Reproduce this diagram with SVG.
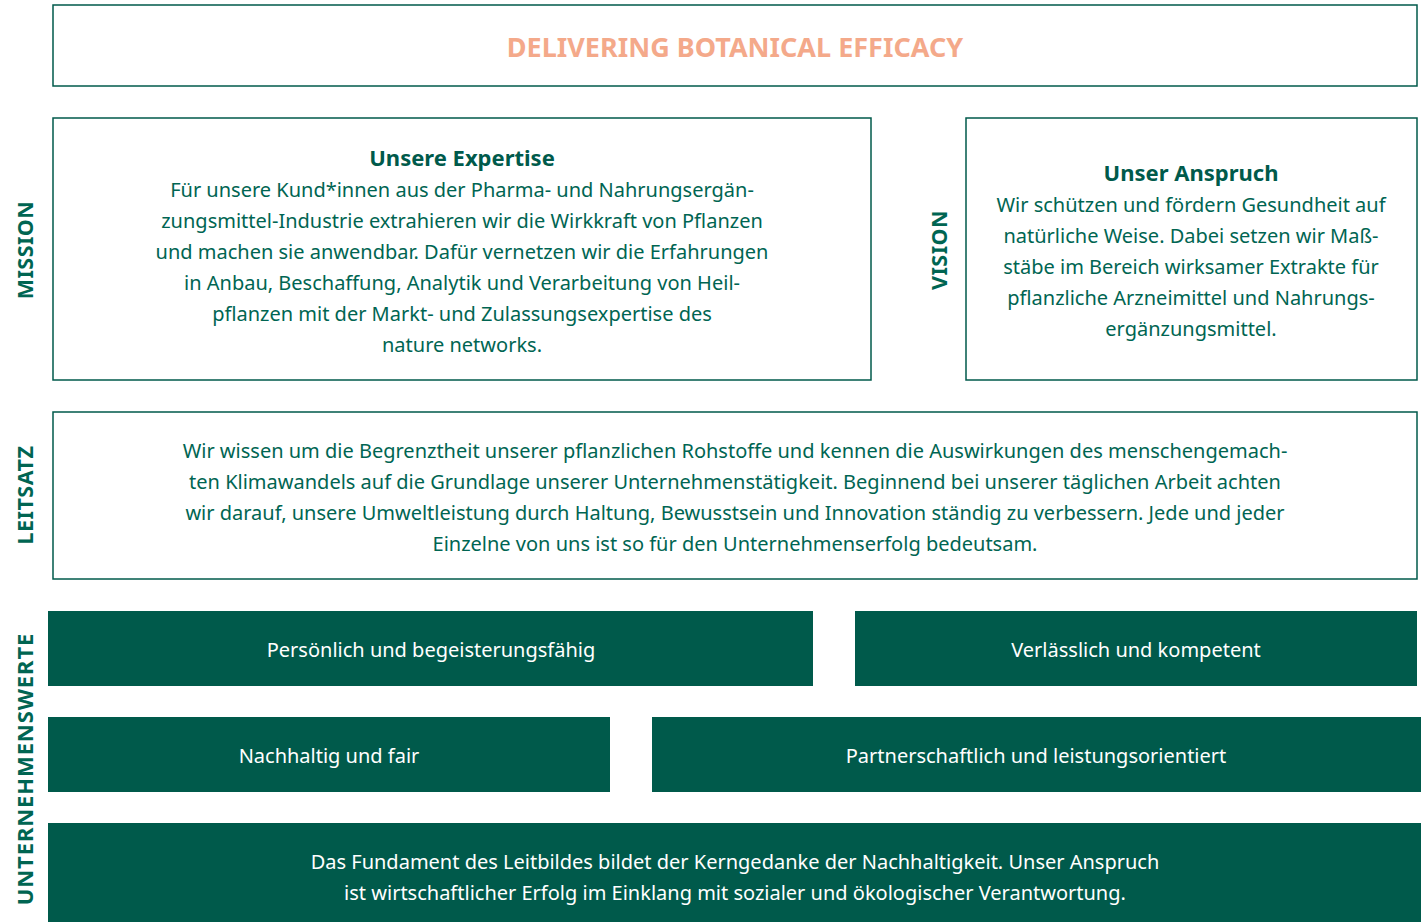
<svg xmlns="http://www.w3.org/2000/svg" width="1421" height="922" viewBox="0 0 1421 922">
<style>
.box{fill:#fff;stroke:#005a4b;stroke-width:1.5}
.fill{fill:#005a4b}
.t{font-family:"Noto Sans","Open Sans",sans-serif;font-size:20px;fill:#006552;text-anchor:middle}
.h{font-family:"Noto Sans","Open Sans",sans-serif;font-size:22px;font-weight:bold;fill:#005a4b;text-anchor:middle}
.w{font-family:"Noto Sans","Open Sans",sans-serif;font-size:20px;fill:#fff;text-anchor:middle}
.lab{font-family:"Noto Sans","Open Sans",sans-serif;font-size:21.5px;font-weight:bold;fill:#006552;text-anchor:middle;letter-spacing:0.5px}
.title{font-family:"Noto Sans","Open Sans",sans-serif;font-size:27px;font-weight:bold;fill:#f4a98a;text-anchor:middle}
</style>
<rect width="1421" height="922" fill="#fff"/>
<g id="title">
<rect class="box" x="53" y="5" width="1364" height="81"/>
<text class="title" x="735" y="57">DELIVERING BOTANICAL EFFICACY</text>
</g>
<g id="labels">
<text class="lab" transform="translate(33,250) rotate(-90)">MISSION</text>
<text class="lab" transform="translate(947,250) rotate(-90)">VISION</text>
<text class="lab" transform="translate(33,495) rotate(-90)">LEITSATZ</text>
<text class="lab" style="font-size:22px;letter-spacing:0.9px" transform="translate(33,769) rotate(-90)">UNTERNEHMENSWERTE</text>
</g>
<g id="expertise">
<rect class="box" x="53" y="118" width="818" height="262"/>
<text class="h" x="462" y="166">Unsere Expertise</text>
<text class="t" x="462" y="197">Für unsere Kund*innen aus der Pharma- und Nahrungsergän-</text>
<text class="t" x="462" y="228">zungsmittel-Industrie extrahieren wir die Wirkkraft von Pflanzen</text>
<text class="t" x="462" y="259">und machen sie anwendbar. Dafür vernetzen wir die Erfahrungen</text>
<text class="t" x="462" y="290">in Anbau, Beschaffung, Analytik und Verarbeitung von Heil-</text>
<text class="t" x="462" y="321">pflanzen mit der Markt- und Zulassungsexpertise des</text>
<text class="t" x="462" y="352">nature networks.</text>
</g>
<g id="vision">
<rect class="box" x="966" y="118" width="451" height="262"/>
<text class="h" x="1191" y="181">Unser Anspruch</text>
<text class="t" x="1191" y="212">Wir schützen und fördern Gesundheit auf</text>
<text class="t" x="1191" y="243">natürliche Weise. Dabei setzen wir Maß-</text>
<text class="t" x="1191" y="274">stäbe im Bereich wirksamer Extrakte für</text>
<text class="t" x="1191" y="305">pflanzliche Arzneimittel und Nahrungs-</text>
<text class="t" x="1191" y="336">ergänzungsmittel.</text>
</g>
<g id="leitsatz">
<rect class="box" x="53" y="412" width="1364" height="167"/>
<text class="t" x="735" y="458">Wir wissen um die Begrenztheit unserer pflanzlichen Rohstoffe und kennen die Auswirkungen des menschengemach-</text>
<text class="t" x="735" y="489">ten Klimawandels auf die Grundlage unserer Unternehmenstätigkeit. Beginnend bei unserer täglichen Arbeit achten</text>
<text class="t" x="735" y="520">wir darauf, unsere Umweltleistung durch Haltung, Bewusstsein und Innovation ständig zu verbessern. Jede und jeder</text>
<text class="t" x="735" y="551">Einzelne von uns ist so für den Unternehmenserfolg bedeutsam.</text>
</g>
<g id="wert1">
<rect class="fill" x="48" y="611" width="765" height="75"/>
<text class="w" x="431" y="657">Persönlich und begeisterungsfähig</text>
</g>
<g id="wert2">
<rect class="fill" x="855" y="611" width="562" height="75"/>
<text class="w" x="1136" y="657">Verlässlich und kompetent</text>
</g>
<g id="wert3">
<rect class="fill" x="48" y="717" width="562" height="75"/>
<text class="w" x="329" y="763">Nachhaltig und fair</text>
</g>
<g id="wert4">
<rect class="fill" x="652" y="717" width="769" height="75"/>
<text class="w" x="1036" y="763">Partnerschaftlich und leistungsorientiert</text>
</g>
<g id="fundament">
<rect class="fill" x="48" y="823" width="1373" height="99"/>
<text class="w" x="735" y="869">Das Fundament des Leitbildes bildet der Kerngedanke der Nachhaltigkeit. Unser Anspruch</text>
<text class="w" x="735" y="900">ist wirtschaftlicher Erfolg im Einklang mit sozialer und ökologischer Verantwortung.</text>
</g>
<g id="connectors"></g>
</svg>
